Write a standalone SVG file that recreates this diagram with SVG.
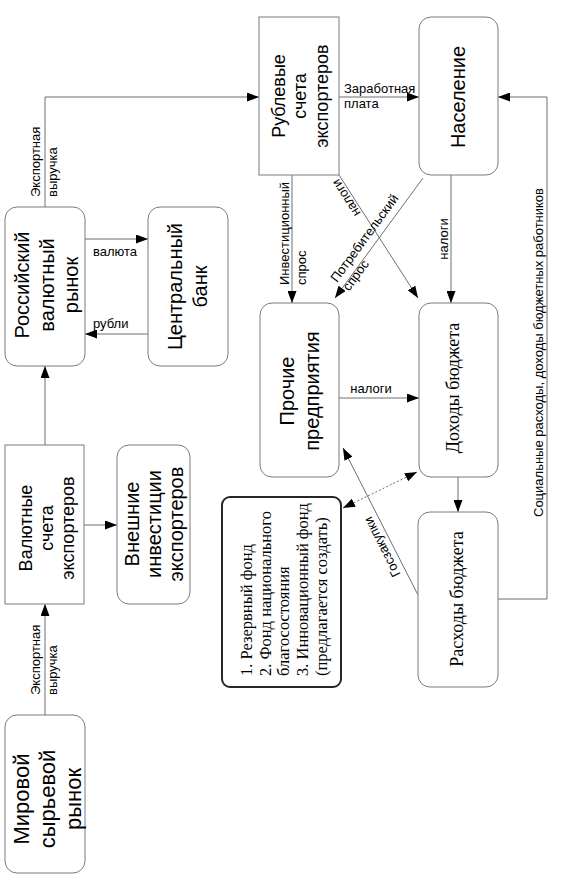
<svg xmlns="http://www.w3.org/2000/svg" width="565" height="887" viewBox="0 0 565 887">
<style>
.box{fill:#fff;stroke:#7a7a7a;stroke-width:1}
.fund{fill:#fff;stroke:#262626;stroke-width:2}
.t{font-family:"Liberation Sans",Arial,sans-serif;fill:#000}
.s{font-family:"Liberation Serif","Times New Roman",serif;fill:#000}
.lbl{font-family:"Liberation Sans",Arial,sans-serif;font-size:13px;fill:#000}
.c{fill:none;stroke:#6e6e6e;stroke-width:1;marker-end:url(#ah)}
.d{fill:none;stroke:#6e6e6e;stroke-width:1;stroke-dasharray:2,2;marker-end:url(#ah);marker-start:url(#ah)}
</style>
<defs>
<marker id="ah" markerUnits="userSpaceOnUse" markerWidth="12" markerHeight="9" refX="12" refY="4.5" orient="auto-start-reverse">
<path d="M0,0 L12,4.5 L0,9 z" fill="#000"/>
</marker>
</defs>
<rect width="565" height="887" fill="#fff"/>

<g id="connectors">
<line class="c" x1="45" y1="715" x2="45" y2="604"/>
<line class="c" x1="45" y1="445" x2="45" y2="366"/>
<line class="c" x1="84" y1="525" x2="117" y2="525"/>
<path class="c" d="M45,207 V97 H259"/>
<line class="c" x1="85" y1="239" x2="148" y2="239"/>
<line class="c" x1="148" y1="334" x2="85" y2="334"/>
<line class="c" x1="339" y1="97" x2="419" y2="97"/>
<line class="c" x1="292" y1="175" x2="292" y2="303"/>
<line class="c" x1="339" y1="175" x2="418" y2="298"/>
<line class="c" x1="423" y1="178" x2="335" y2="298"/>
<line class="c" x1="451" y1="175" x2="451" y2="303"/>
<line class="c" x1="339" y1="398" x2="419" y2="398"/>
<line class="c" x1="458" y1="477" x2="458" y2="512"/>
<path class="c" d="M498,599 H547 V97 H498"/>
<line class="c" x1="418" y1="595" x2="343" y2="448"/>
<line class="d" x1="343" y1="508" x2="417" y2="472"/>

<text class="lbl" transform="rotate(-90)"><tspan x="-197" y="39.5">Экспортная</tspan><tspan x="-197" y="56.5">выручка</tspan></text>
<text class="lbl" transform="rotate(-90)"><tspan x="-695" y="39.5">Экспортная</tspan><tspan x="-695" y="56.5">выручка</tspan></text>
<text class="lbl" x="93" y="256">валюта</text>
<text class="lbl" x="93" y="328">рубли</text>
<text class="lbl" x="344" y="93">Заработная</text>
<text class="lbl" x="344" y="107.5">плата</text>
<text class="lbl" transform="rotate(-90)"><tspan x="-285" y="288.5">Инвестиционный</tspan><tspan x="-285" y="305.5">спрос</tspan></text>
<text class="lbl" transform="rotate(-90)" x="-239" y="447.5" text-anchor="middle">налоги</text>
<text class="lbl" x="371" y="393" text-anchor="middle">налоги</text>
<text class="lbl" transform="rotate(-90)" x="-517" y="542.5">Социальные расходы, доходы бюджетных работников</text>
<text class="lbl" transform="translate(349.8,195.6) rotate(-122.6)" text-anchor="middle">налоги</text>
<text class="lbl" transform="translate(337,283) rotate(-53.8)"><tspan x="0" y="0">Потребительский</tspan><tspan x="0" y="15">спрос</tspan></text>
<text class="lbl" transform="translate(386,545) rotate(-117)" text-anchor="middle">Госзакупки</text>
</g>

<g id="mirovoy">
<rect class="box" x="5" y="715" width="80" height="158" rx="12"/>
<text class="t" font-size="22" text-anchor="middle" transform="rotate(-90)"><tspan x="-799" y="29">Мировой</tspan><tspan x="-799" y="55">сырьевой</tspan><tspan x="-799" y="81">рынок</tspan></text>
</g>

<g id="valyutnye">
<rect class="box" x="5" y="445" width="79" height="159"/>
<text class="t" font-size="18" text-anchor="middle" transform="rotate(-90)"><tspan x="-528" y="32">Валютные</tspan><tspan x="-528" y="53">счета</tspan><tspan x="-528" y="74">экспортеров</tspan></text>
</g>

<g id="vneshnie">
<rect class="box" x="117" y="445" width="73" height="159" rx="12"/>
<text class="t" font-size="20" text-anchor="middle" transform="rotate(-90)"><tspan x="-524" y="139">Внешние</tspan><tspan x="-524" y="161">инвестиции</tspan><tspan x="-524" y="183">экспортеров</tspan></text>
</g>

<g id="rossiyskiy">
<rect class="box" x="5" y="207" width="80" height="159" rx="12"/>
<text class="t" font-size="20" text-anchor="middle" transform="rotate(-90)"><tspan x="-285" y="29">Российский</tspan><tspan x="-285" y="54">валютный</tspan><tspan x="-285" y="78">рынок</tspan></text>
</g>

<g id="cb">
<rect class="box" x="148" y="207" width="80" height="159" rx="12"/>
<text class="t" font-size="20" text-anchor="middle" transform="rotate(-90)"><tspan x="-286.5" y="182">Центральный</tspan><tspan x="-286.5" y="207">банк</tspan></text>
</g>

<g id="rublevye">
<rect class="box" x="259" y="17" width="80" height="158"/>
<text class="t" font-size="18" text-anchor="middle" transform="rotate(-90)"><tspan x="-96" y="285">Рублевые</tspan><tspan x="-96" y="306">счета</tspan><tspan x="-96" y="328">экспортеров</tspan></text>
</g>

<g id="naselenie">
<rect class="box" x="419" y="17" width="79" height="158" rx="12"/>
<text class="t" font-size="20" text-anchor="middle" transform="rotate(-90)" x="-97" y="465">Население</text>
</g>

<g id="prochie">
<rect class="box" x="260" y="303" width="79" height="174" rx="12"/>
<text class="t" font-size="20" text-anchor="middle" transform="rotate(-90)"><tspan x="-391" y="294">Прочие</tspan><tspan x="-391" y="319">предприятия</tspan></text>
</g>

<g id="dohody">
<rect class="box" x="419" y="303" width="79" height="174" rx="12"/>
<text class="s" font-size="18" text-anchor="middle" transform="rotate(-90)" x="-388" y="459">Доходы бюджета</text>
</g>

<g id="rashody">
<rect class="box" x="418" y="512" width="80" height="175" rx="12"/>
<text class="s" font-size="18" text-anchor="middle" transform="rotate(-90)" x="-599" y="463">Расходы бюджета</text>
</g>

<g id="fondy">
<rect class="fund" x="222" y="497" width="119" height="190" rx="8"/>
<text class="s" font-size="16.5" transform="rotate(-90)"><tspan x="-676" y="252">1. Резервный фонд</tspan><tspan x="-676" y="271">2. Фонд национального</tspan><tspan x="-676" y="289">благосостояния</tspan><tspan x="-676" y="308">3. Инновационный фонд</tspan><tspan x="-676" y="327">(предлагается создать)</tspan></text>
</g>
</svg>
